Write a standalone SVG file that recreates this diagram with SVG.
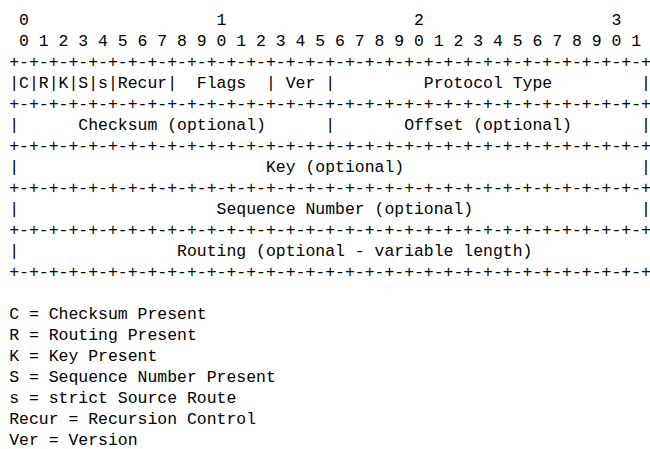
<svg xmlns="http://www.w3.org/2000/svg" width="650" height="449" viewBox="0 0 650 449">
<style>
text{font-family:"Liberation Mono","DejaVu Sans Mono",monospace;font-size:16.47px;fill:#000;white-space:pre}
</style>
<rect width="650" height="449" fill="#fff"/>
<g id="ruler">
<text x="9.2" y="24.5" xml:space="preserve"> 0                   1                   2                   3</text>
<text x="9.2" y="45.5" xml:space="preserve"> 0 1 2 3 4 5 6 7 8 9 0 1 2 3 4 5 6 7 8 9 0 1 2 3 4 5 6 7 8 9 0 1</text>
</g>
<g id="header">
<text x="9.2" y="66.5" xml:space="preserve">+-+-+-+-+-+-+-+-+-+-+-+-+-+-+-+-+-+-+-+-+-+-+-+-+-+-+-+-+-+-+-+-+</text>
<text x="9.2" y="87.5" xml:space="preserve">|C|R|K|S|s|Recur|  Flags  | Ver |         Protocol Type         |</text>
<text x="9.2" y="108.5" xml:space="preserve">+-+-+-+-+-+-+-+-+-+-+-+-+-+-+-+-+-+-+-+-+-+-+-+-+-+-+-+-+-+-+-+-+</text>
<text x="9.2" y="129.5" xml:space="preserve">|      Checksum (optional)      |       Offset (optional)       |</text>
<text x="9.2" y="150.5" xml:space="preserve">+-+-+-+-+-+-+-+-+-+-+-+-+-+-+-+-+-+-+-+-+-+-+-+-+-+-+-+-+-+-+-+-+</text>
<text x="9.2" y="171.5" xml:space="preserve">|                         Key (optional)                        |</text>
<text x="9.2" y="192.5" xml:space="preserve">+-+-+-+-+-+-+-+-+-+-+-+-+-+-+-+-+-+-+-+-+-+-+-+-+-+-+-+-+-+-+-+-+</text>
<text x="9.2" y="213.5" xml:space="preserve">|                    Sequence Number (optional)                 |</text>
<text x="9.2" y="234.5" xml:space="preserve">+-+-+-+-+-+-+-+-+-+-+-+-+-+-+-+-+-+-+-+-+-+-+-+-+-+-+-+-+-+-+-+-+</text>
<text x="9.2" y="255.5" xml:space="preserve">|                Routing (optional - variable length)</text>
<text x="9.2" y="276.5" xml:space="preserve">+-+-+-+-+-+-+-+-+-+-+-+-+-+-+-+-+-+-+-+-+-+-+-+-+-+-+-+-+-+-+-+-+</text>
</g>
<g id="legend">
<text x="9.2" y="318.5">C = Checksum Present</text>
<text x="9.2" y="339.5">R = Routing Present</text>
<text x="9.2" y="360.5">K = Key Present</text>
<text x="9.2" y="381.5">S = Sequence Number Present</text>
<text x="9.2" y="402.5">s = strict Source Route</text>
<text x="9.2" y="423.5">Recur = Recursion Control</text>
<text x="9.2" y="444.5">Ver = Version</text>
</g>
</svg>
